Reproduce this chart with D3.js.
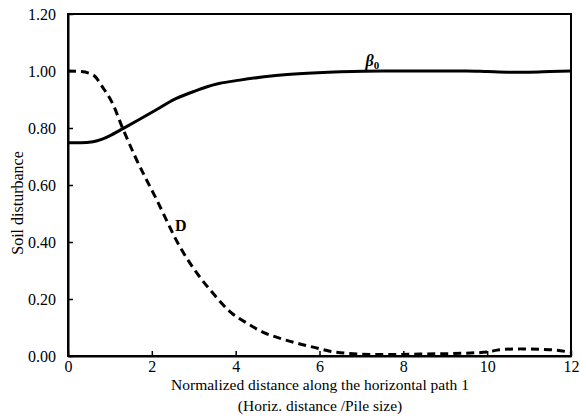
<!DOCTYPE html>
<html><head><meta charset="utf-8">
<script src="https://cdn.jsdelivr.net/npm/d3@7"></script>
<style>body{margin:0;background:#fff}svg{display:block}text{font-family:"Liberation Serif","DejaVu Serif",serif;fill:#000}</style>
</head><body>
<svg id="c" width="580" height="420"></svg>
<script>
const xTicks = [0, 2, 4, 6, 8, 10, 12];
const yTicks = [0, 0.2, 0.4, 0.6, 0.8, 1.0, 1.2];
const betaX = [0, 0.3, 0.6, 0.8, 1.0, 1.3, 1.7, 2.2, 2.5, 3.0, 3.3, 3.6, 4.1, 4.9, 5.5, 6.5, 7.5, 8.5, 9.5, 10.0, 10.5, 11.0, 11.5, 12.0];
const betaY = [0.748, 0.748, 0.752, 0.76, 0.773, 0.797, 0.83, 0.872, 0.898, 0.928, 0.944, 0.956, 0.968, 0.983, 0.99, 0.997, 1.0, 1.0, 1.0, 0.998, 0.996, 0.996, 0.998, 1.0];
const dX = [0, 0.3, 0.6, 0.84, 1.05, 1.31, 1.6, 2.12, 2.67, 3.08, 3.46, 3.87, 4.27, 4.66, 5.06, 5.46, 5.85, 6.25, 6.7, 7.5, 8.5, 9.5, 10.0, 10.3, 10.8, 11.5, 12.0];
const dY = [1.0, 0.998, 0.986, 0.94, 0.89, 0.797, 0.7, 0.547, 0.383, 0.29, 0.22, 0.155, 0.115, 0.083, 0.062, 0.045, 0.031, 0.017, 0.009, 0.005, 0.007, 0.01, 0.014, 0.022, 0.025, 0.022, 0.013];

const svg = d3.select("#c");
const L = 68, R = 571, T = 14, B = 356;
const x = d3.scaleLinear().domain([0, 12]).range([L, R]);
const y = d3.scaleLinear().domain([0, 1.2]).range([B, T]);

// frame
svg.append("rect").attr("x", L).attr("y", T).attr("width", R - L).attr("height", B - T)
  .attr("fill", "none").attr("stroke", "#000").attr("stroke-width", 2);

const xa = svg.append("g").attr("transform", `translate(0,${B})`)
  .call(d3.axisBottom(x).tickValues(xTicks).tickSizeInner(-5).tickSizeOuter(0).tickPadding(5).tickFormat(d3.format("d")));
const ya = svg.append("g").attr("transform", `translate(${L},0)`)
  .call(d3.axisLeft(y).tickValues(yTicks).tickSizeInner(-5).tickSizeOuter(0).tickPadding(12).tickFormat(d3.format(".2f")));
[xa, ya].forEach(a => {
  a.select(".domain").attr("stroke", "#000").attr("stroke-width", 2);
  a.selectAll(".tick line").attr("stroke", "#000").attr("stroke-width", 1.5);
  a.selectAll(".tick text").attr("font-family", "Liberation Serif").attr("font-size", 16).attr("fill", "#000");
});

const line = d3.line().x(d => x(d[0])).y(d => y(d[1])).curve(d3.curveMonotoneX);
svg.append("path").datum(betaX.map((v, i) => [v, betaY[i]])).attr("d", line)
  .attr("fill", "none").attr("stroke", "#000").attr("stroke-width", 3);
svg.append("path").datum(dX.map((v, i) => [v, dY[i]])).attr("d", line)
  .attr("fill", "none").attr("stroke", "#000").attr("stroke-width", 3).attr("stroke-dasharray", "8,5");

// labels
const bl = svg.append("text").attr("x", x(7.1)).attr("y", y(1.018)).attr("font-size", 16).attr("font-weight", "bold").attr("font-style", "italic");
bl.append("tspan").text("β");
bl.append("tspan").attr("font-size", 11).attr("dy", 3).attr("font-style", "normal").text("0");
svg.append("text").attr("x", x(2.55)).attr("y", y(0.44)).attr("font-size", 16).attr("font-weight", "bold").text("D");

svg.append("text").attr("x", 320).attr("y", 390).attr("text-anchor", "middle").attr("font-size", 15.5)
  .text("Normalized distance along the horizontal path 1");
svg.append("text").attr("x", 320).attr("y", 411).attr("text-anchor", "middle").attr("font-size", 15.5)
  .text("(Horiz. distance /Pile size)");
svg.append("text").attr("transform", "translate(23,203) rotate(-90)").attr("text-anchor", "middle").attr("font-size", 16)
  .text("Soil disturbance");
</script>
</body></html>
